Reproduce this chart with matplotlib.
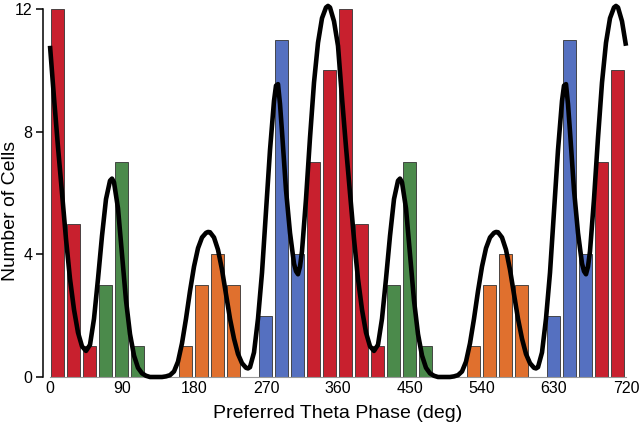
import numpy as np
import matplotlib
matplotlib.use("Agg")
import matplotlib.pyplot as plt

plt.rcParams['font.family'] = ['Liberation Sans', 'DejaVu Sans']

# ---- data (one 360-degree cycle, plotted twice) ----
bin_width = 20
counts_cycle = [12, 5, 1, 3, 7, 1, 0, 0, 1, 3, 4, 3, 0, 2, 11, 4, 7, 10]
color_cycle = ['red', 'red', 'red', 'green', 'green', 'green', 'green', 'green',
               'orange', 'orange', 'orange', 'orange', 'orange',
               'blue', 'blue', 'blue', 'red', 'red']

curve_phase = [0, 5, 10, 15, 20, 25, 30, 35, 40, 45, 50, 55, 60, 65, 70, 75, 77.5,
               80, 85, 90, 95, 100, 105, 110, 115, 120, 125, 130, 135, 140, 145,
               150, 155, 160, 165, 170, 175, 180, 185, 190, 195, 197.5, 200, 205,
               210, 215, 220, 225, 230, 235, 240, 245, 247.5, 250, 255, 260, 265,
               270, 275, 280, 282.5, 285, 287.5, 290, 295, 300, 305, 307.5, 310,
               312.5, 315, 320, 325, 330, 335, 340, 345, 347.5, 350, 355]
curve_value = [10.8, 9.1, 7.5, 6.0, 4.5, 3.2, 2.2, 1.45, 1.0, 0.85, 1.05, 1.9, 3.2,
               4.6, 5.8, 6.4, 6.47, 6.35, 5.5, 4.0, 2.5, 1.4, 0.7, 0.3, 0.12, 0.04,
               0.0, 0.0, 0.0, 0.0, 0.02, 0.06, 0.18, 0.5, 1.1, 1.9, 2.8, 3.6, 4.2,
               4.55, 4.7, 4.73, 4.72, 4.55, 4.15, 3.5, 2.7, 1.9, 1.25, 0.75, 0.45,
               0.3, 0.28, 0.32, 0.8, 1.9, 3.4, 5.4, 7.4, 9.0, 9.5, 9.55, 8.9, 8.0,
               6.1, 4.7, 3.7, 3.45, 3.35, 3.6, 4.1, 5.8, 7.8, 9.6, 10.9, 11.7,
               12.05, 12.1, 12.05, 11.6]

x_ticks = [0, 90, 180, 270, 360, 450, 540, 630, 720]
y_ticks = [0, 4, 8, 12]

palette = {'red': '#C8202E', 'green': '#4B8A4B', 'orange': '#E0702E', 'blue': '#5570C0'}

# ---- build two cycles ----
counts = counts_cycle + counts_cycle
colors = [palette[c] for c in color_cycle + color_cycle]
bin_left = np.arange(len(counts)) * bin_width
cx = np.concatenate([np.array(curve_phase), np.array(curve_phase) + 360, [720]])
cy = np.concatenate([curve_value, curve_value, [curve_value[0]]])

fig = plt.figure(figsize=(6.4, 4.3), dpi=100)
ax = fig.add_axes([50 / 640, 53 / 430, 576 / 640, 368 / 430])

ax.bar(bin_left + 1.0, counts, width=16.5, align='edge', color=colors,
       edgecolor='#333333', linewidth=0.6, zorder=2)
ax.plot(cx, cy, color='black', lw=3.3, solid_capstyle='butt',
        solid_joinstyle='round', zorder=3, clip_on=False)

ax.set_xlim(0, 720)
ax.set_ylim(0, 12)
ax.set_xticks(x_ticks)
ax.set_yticks(y_ticks)
ax.tick_params(axis='x', length=0, pad=3, labelsize=11.5)
ax.tick_params(axis='y', length=5, width=1.1, pad=3, labelsize=11.5)

for s in ['top', 'right']:
    ax.spines[s].set_visible(False)
ax.spines['left'].set_position(('outward', 4.8))
ax.spines['left'].set_linewidth(1.1)
ax.spines['bottom'].set_color('#999999')
ax.spines['bottom'].set_linewidth(0.8)

ax.set_xlabel('Preferred Theta Phase (deg)', fontsize=14, labelpad=6)
ax.set_ylabel('Number of Cells', fontsize=14)
ax.yaxis.set_label_coords(-0.053, 0.45)

fig.savefig('out.png', dpi=100)
